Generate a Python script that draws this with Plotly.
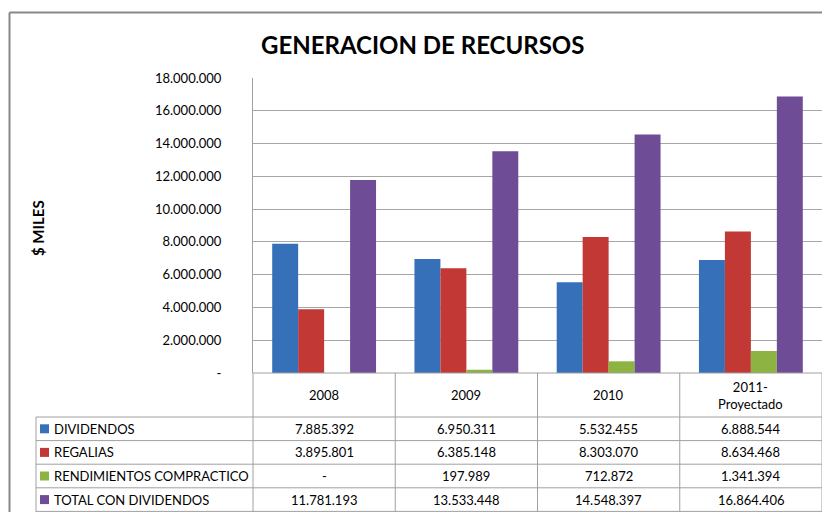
import plotly.graph_objects as go

# ---- data ----
categories = ["2008", "2009", "2010", "2011-Proyectado"]
category_labels = ["2008", "2009", "2010", "2011-<br>Proyectado"]
series_names = ["DIVIDENDOS", "REGALIAS", "RENDIMIENTOS COMPRACTICO", "TOTAL CON DIVIDENDOS"]
dividendos = [7885392, 6950311, 5532455, 6888544]
regalias = [3895801, 6385148, 8303070, 8634468]
rendimientos = [0, 197989, 712872, 1341394]
total_con_dividendos = [11781193, 13533448, 14548397, 16864406]
series_values = [dividendos, regalias, rendimientos, total_con_dividendos]
y_tick_values = [0, 2000000, 4000000, 6000000, 8000000, 10000000,
                 12000000, 14000000, 16000000, 18000000]

colors = ["#3570B8", "#C13834", "#8DB443", "#6E4C96"]

W, H = 822, 512
FONT = "Lato, Carlito, Calibri, sans-serif"
GRID = "#A6A6A6"
LINE = "#A0A0A0"


def fmt(v):
    return "-" if v == 0 else f"{v:,}".replace(",", ".")


def px(x):
    return x / W


def py(y):
    return 1 - y / H


# plot geometry (pixels)
PL, PR, PT, PB = 253, 822, 78, 373
ROW_TOP = 417
ROW_H = 23.6
LABEL_LEFT = 36

n = len(categories)
fig = go.Figure()
for name, vals, col in zip(series_names, series_values, colors):
    fig.add_trace(go.Bar(x=categories, y=vals, name=name, marker_color=col,
                         marker_line_width=0, showlegend=False, hoverinfo="skip"))

fig.update_layout(
    width=W, height=H, autosize=False,
    margin=dict(l=0, r=0, t=0, b=0, pad=0, autoexpand=False),
    paper_bgcolor="white", plot_bgcolor="white",
    barmode="group", bargap=0.27, bargroupgap=0,
    font=dict(family=FONT, size=13, color="#000000"),
    xaxis=dict(type="category", domain=[px(PL), px(PR)], range=[-0.5, n - 0.5],
               showticklabels=False, showgrid=False, automargin=False,
               zeroline=False, ticks="", showline=False,
               categoryorder="array", categoryarray=categories),
    yaxis=dict(domain=[py(PB), py(PT)], range=[0, 18000000], automargin=False,
               tickvals=y_tick_values, ticktext=[fmt(v) for v in y_tick_values],
               showgrid=True, gridcolor=GRID, gridwidth=1, zeroline=False,
               showline=True, linecolor=LINE, linewidth=1, ticks="",
               ticklabelstandoff=28, tickfont=dict(size=13, family=FONT)),
)

shapes = []
annotations = []

# outer chart border
shapes.append(dict(type="line", xref="paper", yref="paper", x0=px(9.5), x1=px(9.5),
                   y0=py(12.5), y1=py(H + 5), line=dict(color="#888888", width=2)))
shapes.append(dict(type="line", xref="paper", yref="paper", x0=px(9.5), x1=px(W + 5),
                   y0=py(12.5), y1=py(12.5), line=dict(color="#888888", width=2)))

# title & y-axis title
annotations.append(dict(text="<b>GENERACION DE RECURSOS</b>", xref="paper", yref="paper",
                        x=px(422), y=py(44), showarrow=False, xanchor="center", yanchor="middle",
                        font=dict(size=24, family=FONT, color="#000000")))
annotations.append(dict(text="<b>$ MILES</b>", xref="paper", yref="paper",
                        x=px(38), y=py(228), showarrow=False, textangle=-90,
                        xanchor="center", yanchor="middle",
                        font=dict(size=15, family=FONT, color="#000000")))

# data table lines
col_w = (PR - PL) / n
table_bottom = ROW_TOP + ROW_H * len(series_names)
shapes.append(dict(type="line", xref="paper", yref="paper", x0=px(PL), x1=px(PR),
                   y0=py(PB), y1=py(PB), line=dict(color=LINE, width=1)))
for r in range(len(series_names) + 1):
    yy = ROW_TOP + ROW_H * r
    shapes.append(dict(type="line", xref="paper", yref="paper", x0=px(LABEL_LEFT), x1=px(PR),
                       y0=py(yy), y1=py(yy), line=dict(color=LINE, width=1)))
for c in range(n + 1):
    xx = PL + col_w * c
    shapes.append(dict(type="line", xref="paper", yref="paper", x0=px(xx), x1=px(xx),
                       y0=py(PB), y1=py(table_bottom + 2), line=dict(color=LINE, width=1)))
shapes.append(dict(type="line", xref="paper", yref="paper", x0=px(LABEL_LEFT), x1=px(LABEL_LEFT),
                   y0=py(ROW_TOP), y1=py(table_bottom + 2), line=dict(color=LINE, width=1)))

for i, lab in enumerate(category_labels):
    annotations.append(dict(text=lab, xref="x", yref="paper", x=i, y=py((PB + ROW_TOP) / 2),
                            showarrow=False, xanchor="center", yanchor="middle",
                            font=dict(size=13, family=FONT)))

for r, (name, vals, col) in enumerate(zip(series_names, series_values, colors)):
    yc = ROW_TOP + ROW_H * r + ROW_H / 2
    shapes.append(dict(type="rect", xref="paper", yref="paper", x0=px(40), x1=px(49),
                       y0=py(yc - 4.5), y1=py(yc + 4.5), fillcolor=col, line=dict(width=0)))
    annotations.append(dict(text=name, xref="paper", yref="paper", x=px(52), y=py(yc),
                            showarrow=False, xanchor="left", yanchor="middle",
                            font=dict(size=13, family=FONT)))
    for i, v in enumerate(vals):
        annotations.append(dict(text=fmt(v), xref="x", yref="paper", x=i, y=py(yc),
                                showarrow=False, xanchor="center", yanchor="middle",
                                font=dict(size=13, family=FONT)))

fig.update_layout(shapes=shapes, annotations=annotations)
fig.write_html("out.html", config={"displayModeBar": False, "responsive": False},
               post_script="document.documentElement.style.margin='0';"
                           "document.body.style.margin='0';document.body.style.padding='0';"
                           "document.body.style.overflow='hidden';"
                           "var d=document.getElementById('{plot_id}');"
                           "d.style.position='fixed';d.style.left='0px';d.style.top='0px';")
